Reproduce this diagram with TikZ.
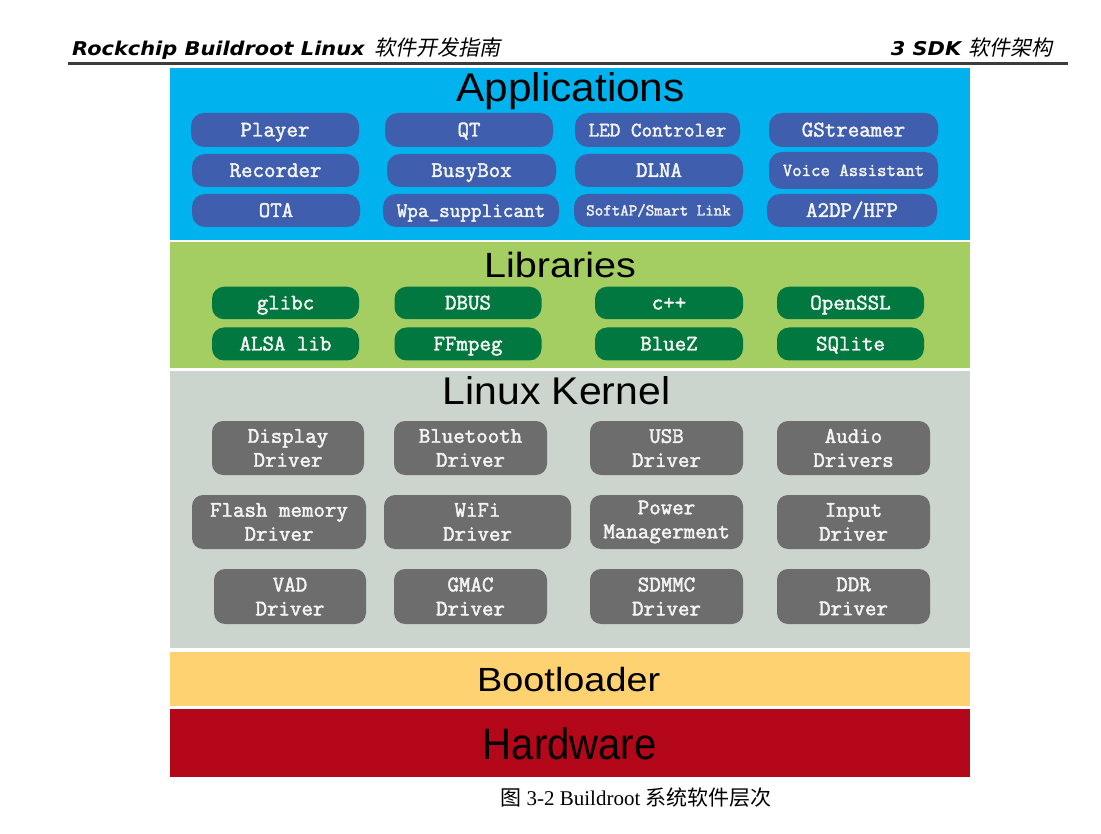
\documentclass[tikz,border=0pt]{standalone}
\usepackage{fontspec}
\usepackage{graphicx}
\setmainfont{Liberation Serif}
\newfontfamily\hdrfont{DejaVu Sans}
\newfontfamily\cjk{Noto Sans CJK SC}
\newfontfamily\cjkit[FakeSlant=0.2]{Noto Sans CJK SC}
\newfontfamily\titlefont{Liberation Sans}
\newfontfamily\boxfont[FakeBold=2]{Latin Modern Mono}
\definecolor{appcyan}{HTML}{00B2EE}
\definecolor{appboxc}{HTML}{3F5FAE}
\definecolor{libgreen}{HTML}{A4CD62}
\definecolor{libboxc}{HTML}{00783F}
\definecolor{kernbg}{HTML}{CBD5CE}
\definecolor{kboxc}{HTML}{6D6D6D}
\definecolor{bootc}{HTML}{FED171}
\definecolor{hwc}{HTML}{B40719}
\definecolor{rulec}{HTML}{3C3C3C}
\definecolor{boxtext}{HTML}{F4F4F4}
\tikzset{
  band/.style={draw=none, minimum width=800pt, inner sep=0pt, outer sep=0pt},
  layertitle/.style={anchor=base, inner sep=0pt, text=black},
  appbox/.style={rounded corners=13pt, fill=appboxc, text=boxtext, inner sep=0pt,
    text height=13pt, text depth=0pt, font=\boxfont\fontsize{22.3}{26}\selectfont},
  libbox/.style={rounded corners=12pt, fill=libboxc, text=boxtext, inner sep=0pt,
    text height=13pt, text depth=0pt, font=\boxfont\fontsize{22.3}{26}\selectfont},
  kbox/.style={rounded corners=11pt, fill=kboxc, text=boxtext, inner sep=0pt, align=center,
    font=\boxfont\fontsize{22.3}{24}\selectfont},
}
\begin{document}
\begin{tikzpicture}[x=1pt,y=-1pt]
\useasboundingbox (0,0) rectangle (1101,834);
\fill[white] (0,0) rectangle (1101,834);

% header
\node[anchor=base west, inner sep=0pt] (hdrl) at (72,56)
  {\hdrfont\bfseries\itshape\fontsize{19}{24}\selectfont\scalebox{1.1}[1]{Rockchip Buildroot Linux}\hspace{0.5em}{\cjkit\mdseries\fontsize{21}{24}\selectfont 软件开发指南}};
\node[anchor=base east, inner sep=0pt] (hdrr) at (1053,56)
  {\hdrfont\bfseries\itshape\fontsize{19}{24}\selectfont\scalebox{1.1}[1]{3 SDK}\hspace{0.4em}{\cjkit\mdseries\fontsize{21}{24}\selectfont 软件架构}};
\coordinate (rl) at (68,63.5);
\coordinate (rr) at (1068,63.5);
\draw[line width=2.5pt, rulec] (rl) -- (rr);

% bands
\node[band, fill=appcyan, minimum height=172.3pt] (apps) at (570,153.85) {};
\node[band, fill=libgreen, minimum height=126pt] (libs) at (570,305.5) {};
\node[band, fill=kernbg, minimum height=276.5pt] (kern) at (570,509.75) {};
\node[band, fill=bootc, minimum height=54.3pt] (boot) at (570,678.85) {};
\node[band, fill=hwc, minimum height=67.7pt] (hw) at (570,743.15) {};

% titles
\node[layertitle] (tapps) at (570.5,102) {\titlefont\fontsize{40}{48}\selectfont\scalebox{1.06}[1]{Applications}};
\node[layertitle] (tlibs) at (560,278) {\titlefont\fontsize{35}{42}\selectfont\scalebox{1.13}[1]{Libraries}};
\node[layertitle] (tkern) at (556.5,404.5) {\titlefont\fontsize{38.6}{46}\selectfont\scalebox{1.06}[1]{Linux Kernel}};
\node[layertitle] (tboot) at (568.7,691.7) {\titlefont\fontsize{33.5}{40}\selectfont\scalebox{1.13}[1]{Bootloader}};
\node[layertitle] (thw) at (569.7,759.3) {\titlefont\fontsize{44}{52}\selectfont\scalebox{0.91}[1]{Hardware}};

% application boxes
\node[appbox, minimum width=168pt, minimum height=34pt] (player) at (275,130) {Player};
\node[appbox, minimum width=168pt, minimum height=34pt] (qt) at (469,130) {QT};
\node[appbox, minimum width=165pt, minimum height=34pt, font=\boxfont\fontsize{20.6}{24}\selectfont] (led) at (657.5,130) {LED Controler};
\node[appbox, minimum width=169pt, minimum height=34pt] (gst) at (853.5,130) {GStreamer};
\node[appbox, minimum width=167pt, minimum height=33pt] (rec) at (275.5,170.5) {Recorder};
\node[appbox, minimum width=169pt, minimum height=33pt] (busy) at (471.5,170.5) {BusyBox};
\node[appbox, minimum width=168pt, minimum height=33pt] (dlna) at (659,170.5) {DLNA};
\node[appbox, minimum width=169pt, minimum height=37pt, font=\boxfont\fontsize{18.3}{22}\selectfont, text height=11pt] (voice) at (853.5,170.5) {Voice Assistant};
\node[appbox, minimum width=168pt, minimum height=33pt] (ota) at (276,210.5) {OTA};
\node[appbox, minimum width=176pt, minimum height=33pt, font=\boxfont\fontsize{20.6}{24}\selectfont] (wpa) at (471,210.5) {Wpa\_supplicant};
\node[appbox, minimum width=169pt, minimum height=33pt, font=\boxfont\fontsize{16.5}{20}\selectfont, text height=10pt] (softap) at (658.5,210.5) {SoftAP/Smart Link};
\node[appbox, minimum width=170pt, minimum height=33pt] (a2dp) at (852,210.5) {A2DP/HFP};

% library boxes
\node[libbox, minimum width=147pt, minimum height=32.5pt] (glibc) at (285.5,303) {glibc};
\node[libbox, minimum width=147pt, minimum height=32.5pt] (dbus) at (468,303) {DBUS};
\node[libbox, minimum width=148pt, minimum height=32.5pt] (cpp) at (669,303) {c++};
\node[libbox, minimum width=147pt, minimum height=32.5pt] (ssl) at (850.5,303) {OpenSSL};
\node[libbox, minimum width=147pt, minimum height=33pt] (alsa) at (285.5,344) {ALSA lib};
\node[libbox, minimum width=147pt, minimum height=33pt] (ffm) at (468,344) {FFmpeg};
\node[libbox, minimum width=148pt, minimum height=33pt] (bluez) at (669,344) {BlueZ};
\node[libbox, minimum width=147pt, minimum height=33pt] (sql) at (850.5,344) {SQlite};

% kernel boxes
\node[kbox, minimum width=152pt, minimum height=54pt] (disp) at (288,448) {Display\\Driver};
\node[kbox, minimum width=153pt, minimum height=54pt] (bt) at (470.5,448) {Bluetooth\\Driver};
\node[kbox, minimum width=153pt, minimum height=54pt] (usb) at (666.5,448) {USB\\Driver};
\node[kbox, minimum width=153pt, minimum height=54pt] (audio) at (853.5,448) {Audio\\Drivers};
\node[kbox, minimum width=174pt, minimum height=54pt] (flash) at (279,522) {Flash memory\\Driver};
\node[kbox, minimum width=187pt, minimum height=54pt] (wifi) at (477.5,522) {WiFi\\Driver};
\node[kbox, minimum width=153pt, minimum height=54pt] (power) at (666.5,522) {Power\\Managerment};
\node[kbox, minimum width=153pt, minimum height=54pt] (input) at (853.5,522) {Input\\Driver};
\node[kbox, minimum width=152pt, minimum height=55pt] (vad) at (290,596.5) {VAD\\Driver};
\node[kbox, minimum width=153pt, minimum height=55pt] (gmac) at (470.5,596.5) {GMAC\\Driver};
\node[kbox, minimum width=153pt, minimum height=55pt] (sdmmc) at (666.5,596.5) {SDMMC\\Driver};
\node[kbox, minimum width=153pt, minimum height=55pt] (ddr) at (853.5,596.5) {DDR\\Driver};

% caption
\node[anchor=base, inner sep=0pt] (caption) at (636,805)
  {\fontsize{21}{24}\selectfont{\cjk 图} 3-2 Buildroot {\cjk 系统软件层次}};
\end{tikzpicture}
\end{document}
